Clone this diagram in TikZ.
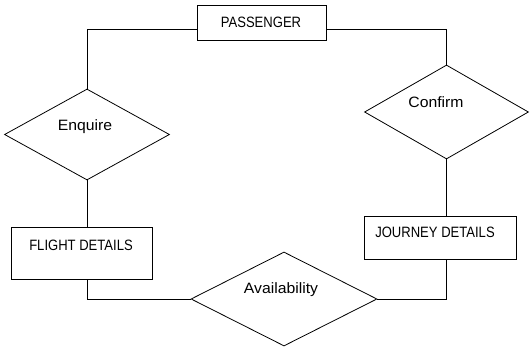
\documentclass[tikz,border=0pt]{standalone}
\usepackage{fontspec}
\usepackage{graphicx}
\setmainfont{Liberation Sans}
\usetikzlibrary{shapes.geometric}
\tikzset{
  entity/.style={draw, line width=0.8pt, inner sep=0pt, rectangle},
  relation/.style={draw, line width=0.8pt, inner sep=0pt, diamond, aspect=1},
  lbl/.style={font=\fontsize{15}{18}\selectfont, inner sep=0pt, anchor=base},
  conn/.style={line width=0.8pt}
}
\newcommand{\capsx}[1]{\scalebox{0.87}[1]{#1}}
\newcommand{\lowsx}[1]{\scalebox{1.05}[1]{#1}}
\begin{document}
\begin{tikzpicture}[x=1pt, y=-1pt]
\useasboundingbox (0,0) rectangle (531,351);
% entities
\node[entity, minimum width=129pt, minimum height=35pt] (pass) at (261.5,22.5) {};
\node[entity, minimum width=141pt, minimum height=52pt] (flight) at (81.5,253) {};
\node[entity, minimum width=152pt, minimum height=43pt] (jour) at (440,237.5) {};
% relationships
\node[relation, minimum width=165pt, minimum height=91pt] (enq) at (87,134.5) {};
\node[relation, minimum width=164pt, minimum height=94pt] (conf) at (446.5,112) {};
\node[relation, minimum width=186pt, minimum height=94pt] (avail) at (284,299) {};
% labels
\node[lbl] (tpass) at (261,27) {\capsx{PASSENGER}};
\node[lbl] (tflight) at (81,250) {\capsx{FLIGHT DETAILS}};
\node[lbl] (tjour) at (435,237) {\capsx{JOURNEY DETAILS}};
\node[lbl] (tenq) at (85,130) {\lowsx{Enquire}};
\node[lbl] (tconf) at (436,107) {\lowsx{Confirm}};
\node[lbl] (tavail) at (281,293) {\lowsx{Availability}};
% connectors
\draw[conn] ([yshift=-6.5pt]pass.west) -| (enq.north);
\draw[conn] ([yshift=-6.5pt]pass.east) -| (conf.north);
\draw[conn] (enq.south) -- (enq.south |- flight.north);
\draw[conn] (conf.south) -- (conf.south |- jour.north);
\draw[conn] (enq.south |- flight.south) |- (avail.west);
\draw[conn] (avail.east) -| (conf.south |- jour.south);
\end{tikzpicture}
\end{document}
